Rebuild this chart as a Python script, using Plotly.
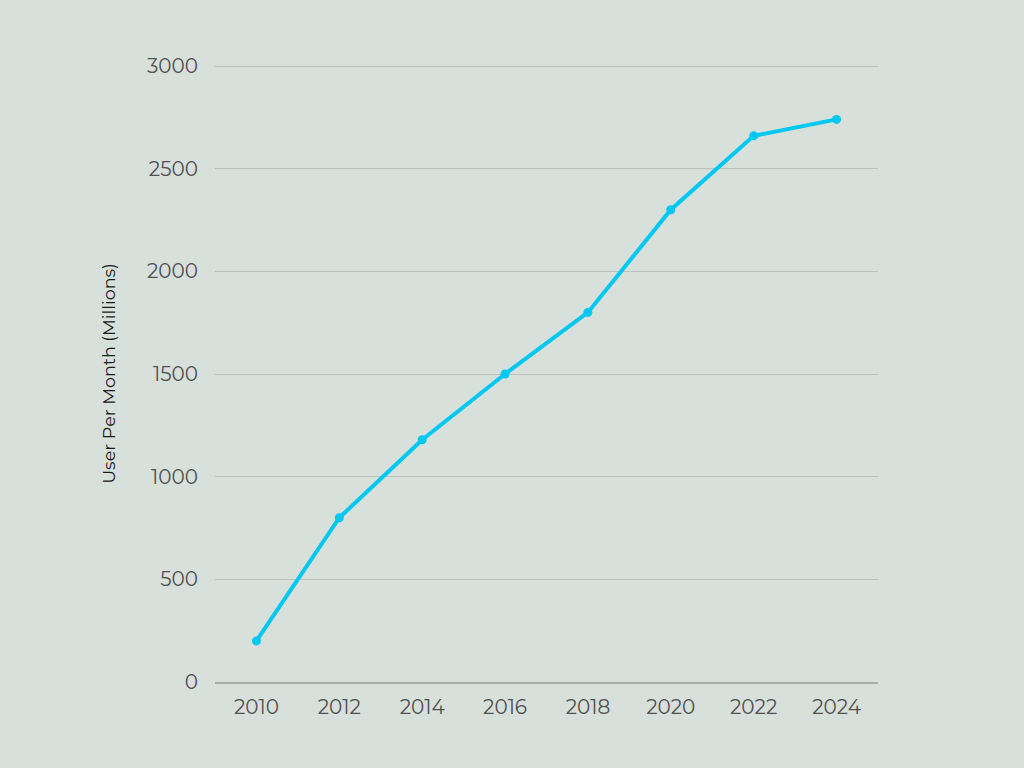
import plotly.graph_objects as go

years = ["2010", "2012", "2014", "2016", "2018", "2020", "2022", "2024"]
users = [200, 800, 1180, 1500, 1800, 2300, 2660, 2740]
y_ticks = [0, 500, 1000, 1500, 2000, 2500, 3000]

bg = "#d8e0dc"
font_family = "Montserrat, Lato, 'Open Sans', sans-serif"

fig = go.Figure(
    go.Scatter(
        x=years,
        y=users,
        mode="lines+markers",
        line=dict(color="#00c8f0", width=4),
        marker=dict(color="#00c8f0", size=9),
        hoverinfo="x+y",
    )
)

fig.update_layout(
    width=1024,
    height=768,
    paper_bgcolor=bg,
    plot_bgcolor=bg,
    margin=dict(l=215, r=146, t=65, b=86),
    showlegend=False,
    font=dict(family=font_family, color="#505050", size=20),
)

fig.update_xaxes(
    type="category",
    range=[-0.5, len(years) - 0.5],
    showgrid=False,
    showline=True,
    linecolor="#a8ada9",
    linewidth=2,
    ticks="",
    ticklabelstandoff=6,
    tickfont=dict(size=20, color="#505050"),
)

fig.update_yaxes(
    range=[0, 3005],
    tickvals=y_ticks,
    showgrid=True,
    gridcolor="#bcc2be",
    gridwidth=1,
    zeroline=False,
    showline=False,
    ticks="",
    ticklabelstandoff=16,
    tickfont=dict(size=20, color="#505050"),
    title=dict(
        text="User Per Month (Millions)",
        font=dict(size=17.5, color="#1a1a1a"),
        standoff=26,
    ),
)

fig.write_html(
    "out.html",
    config={"displayModeBar": False},
    post_script=(
        "document.documentElement.style.margin='0';"
        "document.body.style.margin='0';"
        "document.body.style.overflow='hidden';"
        "document.body.style.background='#d8e0dc';"
    ),
)
